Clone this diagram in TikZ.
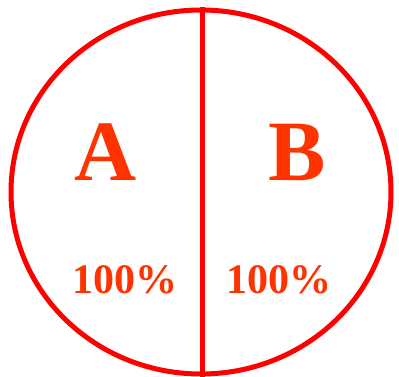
\documentclass[tikz,border=0pt]{standalone}
\usepackage{fontspec}
\setmainfont{Liberation Serif}
\usetikzlibrary{shapes.geometric}
\definecolor{ringred}{RGB}{255,0,0}
\definecolor{labelred}{RGB}{255,51,0}

\begin{document}
\begin{tikzpicture}[x=1pt, y=-1pt,
  ring/.style={ellipse, draw=ringred, line width=5pt, inner sep=0pt,
               minimum width=380pt, minimum height=364pt},
  letter/.style={text=labelred, font=\fontsize{86}{86}\selectfont\bfseries, anchor=base, inner sep=0pt},
  share/.style={text=labelred, font=\fontsize{42}{42}\selectfont\bfseries, anchor=base, inner sep=0pt}
]
  \useasboundingbox (0,0) rectangle (399,377);
  \node[ring] (circ) at (201,192) {};
  \draw[ringred, line width=5pt] ([xshift=1pt]circ.north) -- ([xshift=1pt]circ.south);
  \node[letter] (la) at (106,181) {A};
  \node[letter] (lb) at (297,181) {B};
  \node[share] (pa) at (125,293) {100\%};
  \node[share] (pb) at (279,293) {100\%};
\end{tikzpicture}
\end{document}
